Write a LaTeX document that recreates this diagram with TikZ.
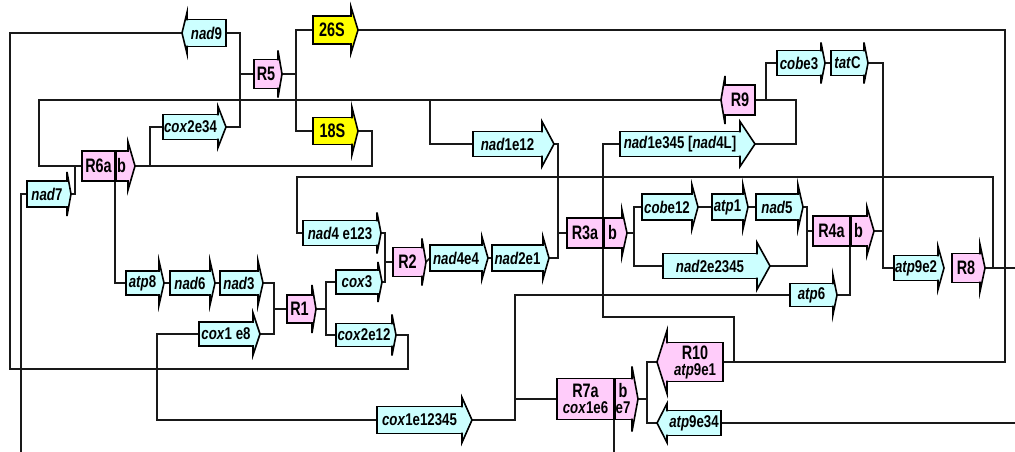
\documentclass[tikz,border=0pt]{standalone}
\usepackage{fontspec}
\newfontfamily\labfam{Liberation Sans}[FakeStretch=0.78]
\newfontfamily\regfam{Liberation Sans}[FakeStretch=0.74]
\newcommand\gfont{\labfam\bfseries\fontsize{17}{18}\selectfont}
\newcommand\rfont{\regfam\bfseries\fontsize{19.5}{20}\selectfont}
\newcommand\gn[1]{\textit{#1}}

\definecolor{gcyan}{RGB}{204,255,255}
\definecolor{gpink}{RGB}{255,204,250}
\definecolor{gyel}{RGB}{255,255,0}
\definecolor{ink}{RGB}{25,25,25}

\pgfdeclarelayer{bg}
\pgfsetlayers{bg,main}

\tikzset{
  box/.style={draw=black, line width=1.6pt, inner sep=0pt, outer sep=0pt, align=center},
  gene/.style={box, fill=gcyan, font=\gfont},
  reg/.style={box, fill=gpink, font=\rfont},
  rrna/.style={box, fill=gyel, font=\rfont},
  outl/.style={draw=black, line width=1.6pt, line join=miter},
  wire/.style={draw=ink, line width=1.6pt},
  divider/.style={draw=black, line width=3pt},
}

% arrow head on the right side of a box: node, colour, wing overhang, head length
\newcommand\headR[4]{%
  \fill[#2] ([xshift=-1.2pt]#1.north east) -- (#1.north east) -- ([yshift=#3pt]#1.north east)
     -- ([xshift=#4pt]#1.east) -- ([yshift=-#3pt]#1.south east) -- (#1.south east)
     -- ([xshift=-1.2pt]#1.south east) -- cycle;
  \draw[outl] ([xshift=-1.2pt]#1.north east) -- (#1.north east) -- ([yshift=#3pt]#1.north east)
     -- ([xshift=#4pt]#1.east) -- ([yshift=-#3pt]#1.south east) -- (#1.south east)
     -- ([xshift=-1.2pt]#1.south east);
  \coordinate (#1-tip) at ([xshift=#4pt]#1.east);
}
% arrow head on the left side of a box
\newcommand\headL[4]{%
  \fill[#2] ([xshift=1.2pt]#1.north west) -- (#1.north west) -- ([yshift=#3pt]#1.north west)
     -- ([xshift=-#4pt]#1.west) -- ([yshift=-#3pt]#1.south west) -- (#1.south west)
     -- ([xshift=1.2pt]#1.south west) -- cycle;
  \draw[outl] ([xshift=1.2pt]#1.north west) -- (#1.north west) -- ([yshift=#3pt]#1.north west)
     -- ([xshift=-#4pt]#1.west) -- ([yshift=-#3pt]#1.south west) -- (#1.south west)
     -- ([xshift=1.2pt]#1.south west);
  \coordinate (#1-tip) at ([xshift=-#4pt]#1.west);
}

\begin{document}
\begin{tikzpicture}[x=1pt,y=-1pt]
\useasboundingbox (0,0) rectangle (1015,452);

% ---- top block
\node[gene, minimum width=39pt, minimum height=27pt] (nad9) at (206.5,33) {\gn{nad}9};
\headL{nad9}{gcyan}{7}{5}
\node[reg, minimum width=24pt, minimum height=29pt] (R5) at (266,74) {R5};
\headR{R5}{gpink}{9}{4}
\node[rrna, minimum width=38pt, minimum height=28pt] (rrna26) at (332,30) {26S};
\headR{rrna26}{gyel}{9}{7}
\node[rrna, minimum width=39pt, minimum height=27pt] (rrna18) at (332.5,131) {18S};
\headR{rrna18}{gyel}{10}{6}
\node[gene, minimum width=55pt, minimum height=25pt] (cox2e34) at (190.5,127) {\gn{cox}2e34};
\headR{cox2e34}{gcyan}{8}{8}
\node[gene, minimum width=69pt, minimum height=25pt] (nad1e12) at (507.5,144) {\gn{nad}1e12};
\headR{nad1e12}{gcyan}{10}{12}
\node[gene, minimum width=120pt, minimum height=25pt] (nad1e345) at (680,144) {\gn{nad}1e345 [\gn{nad}4L]};
\headR{nad1e345}{gcyan}{10}{15}
\node[reg, minimum width=30pt, minimum height=30pt] (R9) at (740,100) {R9};
\headL{R9}{gpink}{9}{4}
\node[gene, minimum width=44pt, minimum height=25pt] (cobe3) at (799,63) {\gn{cob}e3};
\headR{cobe3}{gcyan}{8}{4}
\node[gene, minimum width=33pt, minimum height=25pt] (tatC) at (847.5,63) {\gn{tat}C};
\headR{tatC}{gcyan}{8}{4}

% ---- left block
\node[reg, minimum width=33pt, minimum height=30pt] (R6a) at (98.5,166) {R6a};
\node[reg, minimum width=13pt, minimum height=30pt] (R6b) at (121.5,166) {b};
\headR{R6b}{gpink}{9}{7}
\node[gene, minimum width=40pt, minimum height=26pt] (nad7) at (47,194) {\gn{nad}7};
\headR{nad7}{gcyan}{9}{4}
\node[gene, minimum width=33pt, minimum height=24pt] (atp8) at (142.5,283) {\gn{atp}8};
\headR{atp8}{gcyan}{10}{5}
\node[gene, minimum width=40pt, minimum height=24pt] (nad6) at (190,283) {\gn{nad}6};
\headR{nad6}{gcyan}{10}{5}
\node[gene, minimum width=38pt, minimum height=24pt] (nad3) at (239,283) {\gn{nad}3};
\headR{nad3}{gcyan}{10}{5}
\node[gene, minimum width=54pt, minimum height=24pt] (cox1e8) at (226,334) {\gn{cox}1 e8};
\headR{cox1e8}{gcyan}{9}{7}
\node[reg, minimum width=25pt, minimum height=28pt] (R1) at (299.5,309) {R1};
\headR{R1}{gpink}{10}{4}
\node[gene, minimum width=42pt, minimum height=24pt] (cox3) at (357,282) {\gn{cox}3};
\headR{cox3}{gcyan}{8}{4}
\node[gene, minimum width=56pt, minimum height=23pt] (cox2e12) at (364,335) {\gn{cox}2e12};
\headR{cox2e12}{gcyan}{9}{4}
\node[gene, minimum width=74pt, minimum height=25pt] (nad4e123) at (340,233) {\gn{nad}4 e123};
\headR{nad4e123}{gcyan}{8}{4}
\node[reg, minimum width=29pt, minimum height=29pt] (R2) at (407.5,262) {R2};
\headR{R2}{gpink}{9}{4}
\node[gene, minimum width=52pt, minimum height=26pt] (nad4e4) at (456,258) {\gn{nad}4e4};
\headR{nad4e4}{gcyan}{8}{6}
\node[gene, minimum width=51pt, minimum height=26pt] (nad2e1) at (517.5,258) {\gn{nad}2e1};
\headR{nad2e1}{gcyan}{8}{6}

% ---- middle and right block
\node[reg, minimum width=36pt, minimum height=30pt] (R3a) at (585,233) {R3a};
\node[reg, minimum width=19pt, minimum height=30pt] (R3b) at (612.5,233) {b};
\headR{R3b}{gpink}{8}{5}
\node[gene, minimum width=50pt, minimum height=26pt] (cobe12) at (667,207) {\gn{cob}e12};
\headR{cobe12}{gcyan}{9}{6}
\node[gene, minimum width=31pt, minimum height=26pt] (atp1) at (727.5,207) {\gn{atp}1};
\headR{atp1}{gcyan}{9}{5}
\node[gene, minimum width=42pt, minimum height=26pt] (nad5) at (777,207) {\gn{nad}5};
\headR{nad5}{gcyan}{9}{5}
\node[gene, minimum width=94pt, minimum height=25pt] (nad2e2345) at (710,266) {\gn{nad}2e2345};
\headR{nad2e2345}{gcyan}{11}{13}
\node[reg, minimum width=37pt, minimum height=30pt] (R4a) at (831.5,231) {R4a};
\node[reg, minimum width=17pt, minimum height=30pt] (R4b) at (858.5,231) {b};
\headR{R4b}{gpink}{9}{7}
\node[gene, minimum width=43pt, minimum height=23pt] (atp6) at (811.5,295) {\gn{atp}6};
\headR{atp6}{gcyan}{8}{4}
\node[gene, minimum width=44pt, minimum height=25pt] (atp9e2) at (916,268) {\gn{atp}9e2};
\headR{atp9e2}{gcyan}{9}{6}
\node[reg, minimum width=28pt, minimum height=29pt] (R8) at (966,268) {R8};
\headR{R8}{gpink}{9}{5}

% ---- bottom block
\node[gene, minimum width=85pt, minimum height=27pt] (cox1e12345) at (419.5,420) {\gn{cox}1e12345};
\headR{cox1e12345}{gcyan}{9}{10}
\node[reg, minimum width=57pt, minimum height=41pt] (R7a) at (585.5,399) {R7a\\[-4pt]{\gfont\gn{cox}1e6}};
\node[reg, minimum width=18pt, minimum height=41pt] (R7b) at (623,399) {b\\[-4pt]{\gfont e7}};
\headR{R7b}{gpink}{12}{6}
\node[reg, minimum width=56pt, minimum height=39pt] (R10) at (695,362) {R10\\[-4pt]{\gfont\gn{atp}9e1}};
\headL{R10}{gpink}{12}{10}
\node[gene, minimum width=54pt, minimum height=25pt] (atp9e34) at (694,423) {\gn{atp}9e34};
\headL{atp9e34}{gcyan}{7}{10}

% split lines between the two halves of the paired boxes
\draw[divider] (R6a.north east) -- (R6a.south east);
\draw[divider] (R3a.north east) -- (R3a.south east);
\draw[divider] (R4a.north east) -- (R4a.south east);
\draw[divider] (R7a.north east) -- (R7a.south east);

% loose ends running off the edge
\coordinate (nad7-out) at (21,452);
\coordinate (R8-out) at (1015,268);
\coordinate (atp9-out) at (1015,423);
\coordinate (R7-out) at (614,452);

\begin{pgfonlayer}{bg}
\draw[wire] (nad9-tip) -| (10,369) -| (408,335) -- (cox2e12-tip);
\draw[wire] (nad9.east) -| (240,127) -- (cox2e34-tip);
\draw[wire] (R5.west) -- (240,74);
\draw[wire] (R5-tip) -- (296,74);
\draw[wire] (rrna26.west) -| (296,131) -- (rrna18.west);
\draw[wire] (rrna26-tip) -| (1005,362) -- (R10.east);
\draw[wire] (nad1e345.west) -| (603,317) -| (734,362);
\draw[wire] (R9-tip) -| (39,166) -- (R6a.west);
\draw[wire] (430,100) |- (nad1e12.west);
\draw[wire] (R9.east) -| (796,144) -- (nad1e345-tip);
\draw[wire] (766,100) |- (cobe3.west);
\draw[wire] (cobe3-tip) -- (tatC.west);
\draw[wire] (tatC-tip) -| (883,268) -- (atp9e2.west);
\draw[wire] (R4b-tip) -- (883,231);
\draw[wire] (nad7-tip) -| (75,166);
\draw[wire] (nad7.west) -| (nad7-out);
\draw[wire] (R6b-tip) -| (372,131) -- (rrna18-tip);
\draw[wire] (150,166) |- (cox2e34.west);
\draw[wire] (R6a.south east) |- (atp8.west);
\draw[wire] (atp8-tip) -- (nad6.west);
\draw[wire] (nad6-tip) -- (nad3.west);
\draw[wire] (nad3-tip) -| (274,334) -- (cox1e8-tip);
\draw[wire] (R1.west) -- (274,309);
\draw[wire] (cox1e8.west) -| (157,420) -- (cox1e12345.west);
\draw[wire] (R1-tip) -- (326,309);
\draw[wire] (cox3.west) -| (326,335) -- (cox2e12.west);
\draw[wire] (nad4e123-tip) -| (385,282) -- (cox3-tip);
\draw[wire] (R2.west) -- (385,262);
\draw[wire] (R2-tip) -- (nad4e4.west);
\draw[wire] (nad4e4-tip) -- (nad2e1.west);
\draw[wire] (nad2e1-tip) -| (558,144) -- (nad1e12-tip);
\draw[wire] (R3a.west) -- (558,233);
\draw[wire] (nad4e123.west) -| (297,177) -| (993,268);
\draw[wire] (R8-tip) -- (R8-out);
\draw[wire] (R3b-tip) -- (634,233);
\draw[wire] (cobe12.west) -| (634,266) -- (nad2e2345.west);
\draw[wire] (cobe12-tip) -- (atp1.west);
\draw[wire] (atp1-tip) -- (nad5.west);
\draw[wire] (nad5-tip) -| (807,266) -- (nad2e2345-tip);
\draw[wire] (R4a.west) -- (807,231);
\draw[wire] (atp6-tip) -| (R4a.south east);
\draw[wire] (atp6.west) -| (515,420) -- (cox1e12345-tip);
\draw[wire] (R7a.west) -- (515,399);
\draw[wire] (R7b-tip) -- (647,399);
\draw[wire] (R10-tip) -| (647,423) -- (atp9e34-tip);
\draw[wire] (atp9e34.east) -- (atp9-out);
\draw[wire] (R7a.south east) -- (R7-out);
\end{pgfonlayer}
\end{tikzpicture}
\end{document}
